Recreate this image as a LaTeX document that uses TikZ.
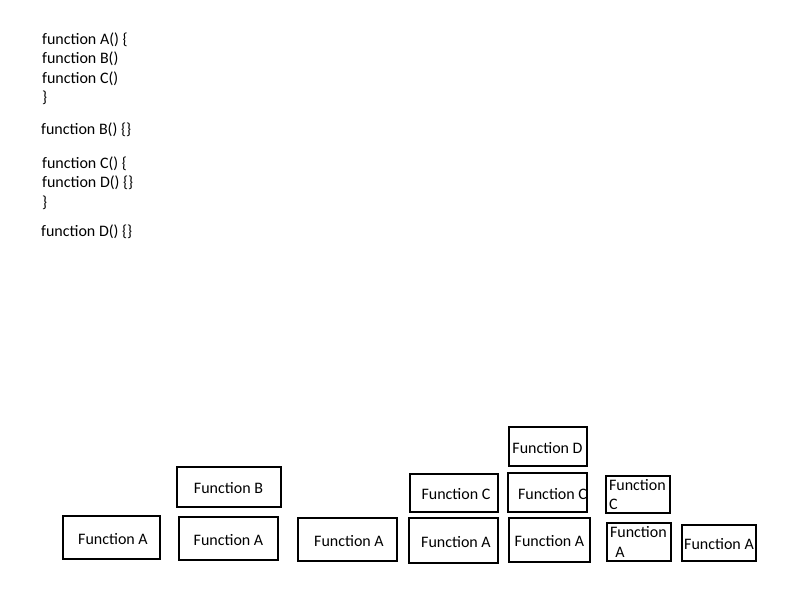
\documentclass[tikz,border=0pt]{standalone}
\usepackage{fontspec}
\setmainfont{Carlito}
\usetikzlibrary{positioning}

\tikzset{
  code/.style={anchor=base west, inner sep=0pt},
  frame/.style={draw, line width=2pt, inner sep=0pt},
  oneline/.style={frame, text height=13.5pt, text depth=0pt},
  twoline/.style={frame, align=left, text width=58pt, inner xsep=3pt},
}

\begin{document}
\begin{tikzpicture}[x=1pt, y=-1pt, font=\fontsize{16}{19.5}\selectfont]
\useasboundingbox (0,0) rectangle (800,600);

% Source code
\node [code] at (42,44) (lA1) {function A() \{};
\node [code] at (42,63) (lA2) {function B()};
\node [code] at (42,83) (lA3) {function C()};
\node [code] at (42,102) (lA4) {\}};
\node [code] at (41,134) (lB1) {function B() \{\}};
\node [code] at (42,168) (lC1) {function C() \{};
\node [code] at (42,187) (lC2) {function D() \{\}};
\node [code] at (42,207) (lC3) {\}};
\node [code] at (41,236) (lD1) {function D() \{\}};

% Stack frames, bottom row
\node [oneline, minimum width=97, minimum height=43] at (111.5,537.5) (1A) {\hspace*{3pt}Function A};
\node [oneline, minimum width=99, minimum height=43] at (228.5,538.5) (2A) {Function A};
\node [oneline, minimum width=99, minimum height=43] at (347.5,539.5) (3A) {\hspace*{3pt}Function A};
\node [oneline, minimum width=89, minimum height=45] at (453.5,540.5) (4A) {\hspace*{5pt}Function A};
\node [oneline, minimum width=81, minimum height=44] at (549.5,540) (5A) {Function A};
\node [twoline, minimum height=38] at (639,542) (6A) {Function\\~A};
\node [oneline, minimum width=74, minimum height=36] at (719,543) (7A) {Function A};

% Stack frames, upper rows
\node [oneline, minimum width=104, minimum height=40, above=8pt of 2A] (2B) {Function B};
\node [oneline, minimum width=88, minimum height=38, above=4pt of 4A] (4C) {\hspace*{5pt}Function C};
\node [oneline, minimum width=79, minimum height=39, above=4pt of 5A, xshift=-2pt] (5C) {\hspace*{10pt}Function C};
\node [oneline, minimum width=78, minimum height=39, above=5pt of 5C] (5D) {Function D};
\node [twoline, minimum height=37, above=8pt of 6A, xshift=-1pt] (6C) {Function\\C};

\end{tikzpicture}
\end{document}
